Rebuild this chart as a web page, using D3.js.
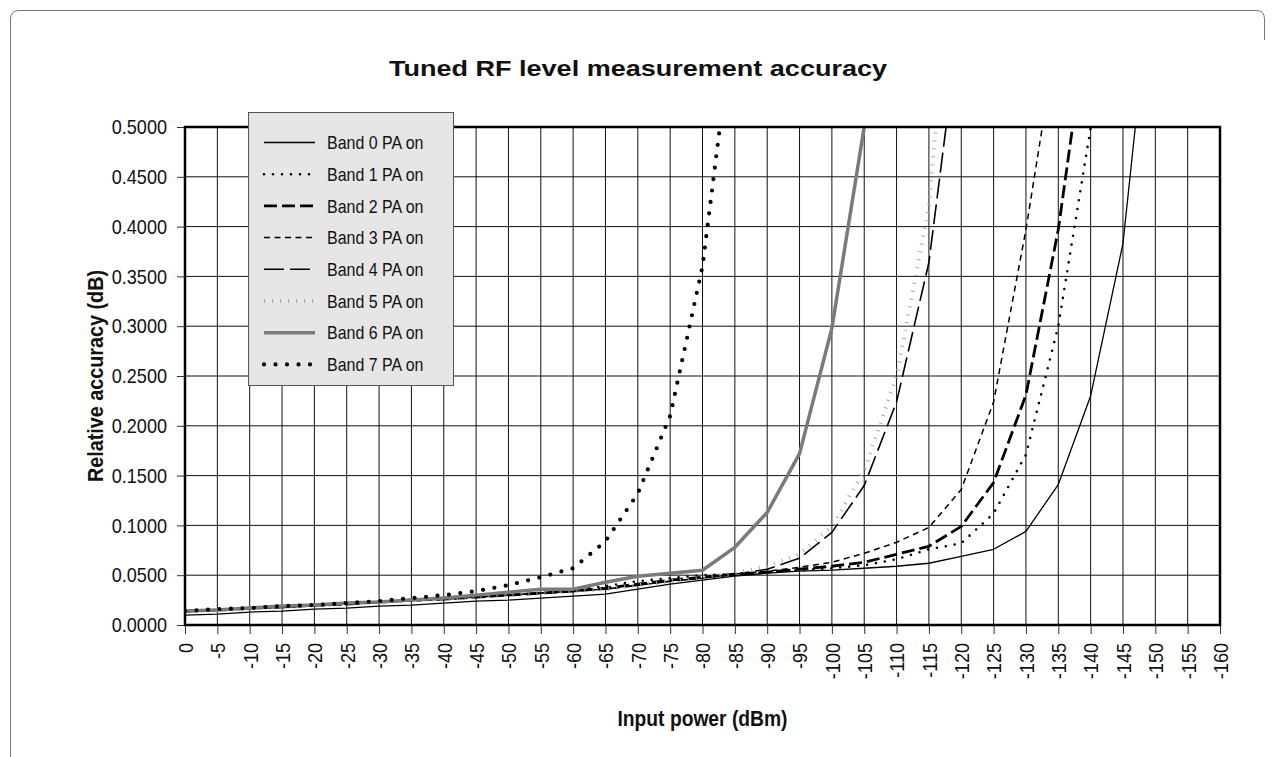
<meta charset="utf-8">
<script src="https://d3js.org/d3.v7.min.js"></script>
<style>
  body { margin: 0; background: #fff; }
  text { font-family: "Liberation Sans", Arial, sans-serif; fill: #111; }
</style>
<div id="my_dataviz"></div>

<script>
  // x categories (dBm) and y ticks
  const inputPower = [0,-5,-10,-15,-20,-25,-30,-35,-40,-45,-50,-55,-60,-65,-70,-75,-80,-85,-90,-95,-100,
                      -105,-110,-115,-120,-125,-130,-135,-140,-145,-150,-155,-160]
  const accuracyTicks = [0,0.05,0.1,0.15,0.2,0.25,0.3,0.35,0.4,0.45,0.5]

  // relative accuracy (dB), one value per 5 dBm step starting at 0 dBm
  const band0 = [0.010,0.011,0.013,0.014,0.016,0.017,0.019,0.020,0.022,0.024,0.025,0.027,0.029,0.031,0.036,0.041,
                 0.045,0.049,0.052,0.054,0.055,0.057,0.059,0.062,0.069,0.076,0.094,0.141,0.230,0.383,0.690]
  const band1 = [0.014,0.015,0.017,0.018,0.020,0.021,0.023,0.025,0.026,0.028,0.030,0.032,0.035,0.039,0.044,0.047,
                 0.050,0.051,0.053,0.055,0.057,0.060,0.066,0.076,0.082,0.112,0.171,0.300,0.499,0.850]
  const band2 = [0.014,0.015,0.017,0.018,0.020,0.021,0.023,0.025,0.026,0.028,0.030,0.032,0.034,0.037,0.041,0.045,
                 0.048,0.051,0.053,0.056,0.059,0.063,0.071,0.079,0.099,0.143,0.231,0.397,0.630]
  const band3 = [0.013,0.015,0.016,0.018,0.019,0.021,0.023,0.024,0.026,0.028,0.030,0.032,0.034,0.036,0.040,0.044,
                 0.047,0.051,0.054,0.058,0.063,0.072,0.083,0.098,0.136,0.224,0.397,0.600]
  const band4 = [0.014,0.015,0.017,0.018,0.020,0.021,0.023,0.025,0.026,0.028,0.030,0.032,0.034,0.036,0.040,0.044,
                 0.047,0.051,0.056,0.067,0.093,0.140,0.224,0.364,0.620]
  const band5 = [0.014,0.015,0.017,0.018,0.020,0.021,0.023,0.025,0.026,0.028,0.030,0.032,0.034,0.036,0.040,0.044,
                 0.048,0.052,0.059,0.071,0.099,0.155,0.250,0.420,0.800]
  const band6 = [0.014,0.015,0.017,0.019,0.020,0.022,0.023,0.025,0.027,0.030,0.033,0.036,0.036,0.043,0.049,0.052,
                 0.055,0.078,0.113,0.172,0.298,0.500]
  const band7 = [0.014,0.016,0.017,0.019,0.020,0.022,0.024,0.027,0.030,0.034,0.040,0.048,0.057,0.084,0.132,0.210,
                 0.360,0.620]

  const seriesNames = ["Band 0 PA on","Band 1 PA on","Band 2 PA on","Band 3 PA on","Band 4 PA on","Band 5 PA on","Band 6 PA on","Band 7 PA on"]
  const seriesValues = [band0,band1,band2,band3,band4,band5,band6,band7]

  // line styles per band
  const styles = [
    {color:"#000", width:1.3, dash:null, cap:"butt"},
    {color:"#000", width:2.6, dash:"0,9", cap:"round"},
    {color:"#000", width:2.8, dash:"13,5", cap:"butt"},
    {color:"#000", width:1.5, dash:"6,4.5", cap:"butt"},
    {color:"#000", width:1.6, dash:"20,6", cap:"butt"},
    {color:"#a8a8a8", width:4, dash:"1,7", cap:"butt"},
    {color:"#7a7a7a", width:3.5, dash:null, cap:"butt"},
    {color:"#000", width:4.2, dash:"0,11.5", cap:"round"}
  ]

  // the original uses a condensed face, squeeze the glyphs to match
  function condense(sel, k) {
    sel.each(function() {
      let w = this.getComputedTextLength()
      d3.select(this).attr("textLength", w * k).attr("lengthAdjust", "spacingAndGlyphs")
    })
  }
  function fitTo(sel, len) {
    sel.attr("textLength", len).attr("lengthAdjust", "spacingAndGlyphs")
  }

  const width = 1275
  const height = 757
  const margin = {top: 127, right: 55, bottom: 132, left: 185}

  var svg = d3.select("#my_dataviz")
    .append("svg")
    .attr("width", width)
    .attr("height", height)

  // page frame
  svg.append("path")
    .attr("d", "M10.5,757 V19 Q10.5,10.5 19,10.5 H1256 Q1264.5,10.5 1264.5,19 V40")
    .attr("fill", "none")
    .attr("stroke", "#777")
    .attr("stroke-width", 1)

  var x = d3.scaleLinear()
    .domain([0, -160])
    .range([margin.left, width - margin.right])
  var y = d3.scaleLinear()
    .domain([0, 0.5])
    .range([height - margin.bottom, margin.top])

  // grid
  svg.append("g").selectAll("line")
    .data(inputPower.slice(1, -1))
    .enter().append("line")
    .attr("x1", d => x(d)).attr("x2", d => x(d))
    .attr("y1", y(0)).attr("y2", y(0.5))
    .attr("stroke", "#111").attr("stroke-width", 1)
  svg.append("g").selectAll("line")
    .data(accuracyTicks.slice(1, -1))
    .enter().append("line")
    .attr("x1", x(0)).attr("x2", x(-160))
    .attr("y1", d => y(d)).attr("y2", d => y(d))
    .attr("stroke", "#111").attr("stroke-width", 1)

  // axes
  const xaxis = d3.axisBottom(x).tickValues(inputPower).tickSize(9).tickFormat(d => d)
  const yaxis = d3.axisLeft(y).tickValues(accuracyTicks).tickSize(8).tickFormat(d3.format(".4f"))

  let X = svg.append("g")
    .attr("transform", "translate(0," + y(0) + ")")
    .call(xaxis)
  X.select(".domain").remove()
  X.selectAll("line").attr("stroke", "#333")
  X.selectAll("text")
    .attr("font-family", null)
    .style("font-size", "21px")
    .attr("transform", "rotate(-90)")
    .attr("text-anchor", "end")
    .attr("x", -18)
    .attr("y", 0)
    .attr("dy", "0.35em")
    .call(condense, 0.86)

  let Y = svg.append("g")
    .attr("transform", "translate(" + x(0) + ",0)")
    .call(yaxis)
  Y.select(".domain").remove()
  Y.selectAll("line").attr("stroke", "#333")
  Y.selectAll("text")
    .attr("font-family", null)
    .style("font-size", "21px")
    .attr("x", -18)
    .call(condense, 0.86)

  // curves, clipped to plot area
  svg.append("clipPath").attr("id", "plotclip")
    .append("rect")
    .attr("x", x(0)).attr("y", y(0.5))
    .attr("width", x(-160) - x(0)).attr("height", y(0) - y(0.5))

  const line = d3.line()
    .x((d, i) => x(inputPower[i]))
    .y(d => y(d))

  svg.append("g").attr("clip-path", "url(#plotclip)")
    .selectAll("path")
    .data(seriesValues)
    .enter().append("path")
    .attr("d", d => line(d))
    .attr("fill", "none")
    .attr("stroke", (d, i) => styles[i].color)
    .attr("stroke-width", (d, i) => styles[i].width)
    .attr("stroke-dasharray", (d, i) => styles[i].dash)
    .attr("stroke-linecap", (d, i) => styles[i].cap)
    .attr("stroke-linejoin", "round")

  // plot border
  svg.append("rect")
    .attr("x", x(0)).attr("y", y(0.5))
    .attr("width", x(-160) - x(0)).attr("height", y(0) - y(0.5))
    .attr("fill", "none")
    .attr("stroke", "#000")
    .attr("stroke-width", 2.5)

  // legend
  const lg = svg.append("g")
  lg.append("rect")
    .attr("x", 248.5).attr("y", 112.5)
    .attr("width", 205).attr("height", 273)
    .attr("fill", "#e6e6e6")
    .attr("stroke", "#555")
    .attr("stroke-width", 1)
  seriesNames.forEach(function(name, i) {
    let ly = 142.5 + i * 31.7
    lg.append("line")
      .attr("x1", 264).attr("x2", 315)
      .attr("y1", ly).attr("y2", ly)
      .attr("stroke", styles[i].color)
      .attr("stroke-width", styles[i].width)
      .attr("stroke-dasharray", styles[i].dash)
      .attr("stroke-linecap", styles[i].cap)
    lg.append("text")
      .attr("x", 327).attr("y", ly)
      .attr("dy", "0.35em")
      .style("font-size", "19px")
      .text(name)
      .call(condense, 0.84)
  })

  // titles
  svg.append("text")
    .attr("x", 638).attr("y", 76)
    .attr("text-anchor", "middle")
    .style("font-size", "22px").style("font-weight", "bold")
    .text("Tuned RF level measurement accuracy")
    .call(fitTo, 498)
  svg.append("text")
    .attr("x", (x(0) + x(-160)) / 2).attr("y", 726)
    .attr("text-anchor", "middle")
    .style("font-size", "22px").style("font-weight", "bold")
    .text("Input power (dBm)")
    .call(fitTo, 170)
  svg.append("text")
    .attr("transform", "translate(103," + (y(0.25)) + ") rotate(-90)")
    .attr("text-anchor", "middle")
    .style("font-size", "22px").style("font-weight", "bold")
    .text("Relative accuracy (dB)")
    .call(fitTo, 212)
</script>
